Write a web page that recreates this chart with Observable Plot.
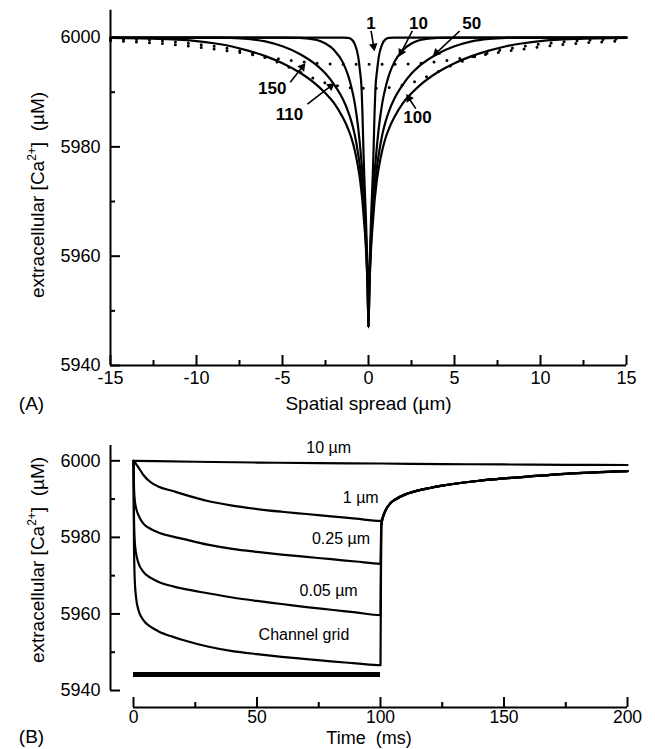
<!DOCTYPE html>
<html><head><meta charset="utf-8">
<script src="https://cdn.jsdelivr.net/npm/d3@7"></script>
<script src="https://cdn.jsdelivr.net/npm/@observablehq/plot@0.6"></script>
<style>
body{margin:0;background:#fff;}
#wrap{position:relative;width:655px;height:749px;background:#fff;}
#a,#b{position:absolute;left:0;}
#a{top:0;} #b{top:415px;}
</style></head><body><div id="wrap"><div id="a"></div><div id="b"></div></div>
<script>
const FONT = "'Liberation Sans', Arial, sans-serif";

// ---------- Panel A: spatial profiles (right half, mirrored about 0) ----------
const rA   = [0, 0.05, 0.1, 0.15, 0.2, 0.25, 0.3, 0.35, 0.4, 0.5, 0.6, 0.8, 1, 1.2, 1.5, 2, 2.5, 3, 4, 5, 6, 7, 8, 9, 10, 12, 15];
const cA1   = [5947, 5956, 5962, 5967, 5971, 5975, 5980, 5986, 5990.5, 5994, 5996.5, 5998.8, 5999.7, 5999.95, 6000, 6000, 6000, 6000, 6000, 6000, 6000, 6000, 6000, 6000, 6000, 6000, 6000];
const cA10  = [5947, 5955, 5960, 5964, 5967.5, 5970.5, 5973, 5975, 5977, 5980.5, 5983.5, 5988, 5991, 5993.2, 5995.5, 5997.7, 5998.9, 5999.55, 5999.95, 6000, 6000, 6000, 6000, 6000, 6000, 6000, 6000];
const cA50  = [5947, 5954.5, 5959, 5962.5, 5965.5, 5968, 5970, 5972, 5973.5, 5976.5, 5978.7, 5982.2, 5984.7, 5986.6, 5988.8, 5991.4, 5993.4, 5994.9, 5997, 5998.4, 5999.3, 5999.75, 5999.95, 6000, 6000, 6000, 6000];
const cA100 = [5947, 5954, 5958, 5961.5, 5964, 5966, 5968, 5970, 5971.5, 5974.2, 5976.2, 5979.4, 5981.7, 5983.4, 5985.4, 5988, 5989.8, 5991.3, 5993.6, 5995.3, 5996.6, 5997.6, 5998.4, 5998.95, 5999.35, 5999.75, 5999.95];
const cA110 = [5990.7, 5990.7, 5990.7, 5990.7, 5990.7, 5990.7, 5990.7, 5990.7, 5990.7, 5990.7, 5990.72, 5990.75, 5990.8, 5990.85, 5991, 5991.3, 5991.7, 5992.3, 5993.7, 5995.1, 5996.3, 5997.2, 5997.9, 5998.4, 5998.8, 5999.4, 5999.75];
const cA150 = [5995.1, 5995.1, 5995.1, 5995.1, 5995.1, 5995.1, 5995.1, 5995.1, 5995.1, 5995.1, 5995.1, 5995.1, 5995.1, 5995.12, 5995.13, 5995.15, 5995.2, 5995.3, 5995.6, 5996, 5996.5, 5997, 5997.5, 5997.9, 5998.3, 5998.9, 5999.4];

const xMajorA = [-15, -10, -5, 0, 5, 10, 15];
const xMinorA = [-12.5, -7.5, -2.5, 2.5, 7.5, 12.5];
const yMajor  = [5940, 5960, 5980, 6000];
const yMinor  = [5950, 5970, 5990];

const labelsA = [
  {t: "1",   x: 0.15, y: 6002.5},
  {t: "10",  x: 2.9,  y: 6002.5},
  {t: "50",  x: 6.0,  y: 6002.5},
  {t: "150", x: -5.6, y: 5990.6},
  {t: "110", x: -4.6, y: 5986.0},
  {t: "100", x: 2.85, y: 5985.4}
];
const arrowsA = [
  {x1: 0.15, y1: 6001.2, x2: 0.3,  y2: 5998.4},
  {x1: 2.55, y1: 6001.2, x2: 1.9,  y2: 5997.3},
  {x1: 5.3,  y1: 6001.2, x2: 3.95, y2: 5997.2},
  {x1: -4.55, y1: 5991.8, x2: -3.85, y2: 5994.6},
  {x1: -3.55, y1: 5987.8, x2: -2.2, y2: 5991.1},
  {x1: 2.75, y1: 5987.0, x2: 2.35, y2: 5988.9}
];

function mirror(r, c) {
  const out = [];
  for (let i = r.length - 1; i > 0; i--) out.push({x: -r[i], y: c[i]});
  for (let i = 0; i < r.length; i++) out.push({x: r[i], y: c[i]});
  return out;
}

const solidA = [cA1, cA10, cA50, cA100].map(c => mirror(rA, c));
const dottedA = [cA110, cA150].map(c => mirror(rA, c));

const frameHA = 365 - 9.7, frameWA = 516;
// pixel-per-unit factors, only used to orient the filled arrowheads
const kxA = frameWA / 30, kyA = frameHA / 65;
const headAngle = d => Math.atan2((d.x2 - d.x1) * kxA, (d.y2 - d.y1) * kyA) * 180 / Math.PI;

const plotA = Plot.plot({
  width: 655, height: 415,
  marginTop: 9.7, marginBottom: 50, marginLeft: 110, marginRight: 29,
  x: {domain: [-15, 15]},
  y: {domain: [5940, 6005]},
  style: {fontFamily: FONT, fontSize: "18px", color: "#000", background: "transparent", overflow: "visible"},
  marks: [
    Plot.ruleX([-15], {strokeWidth: 2}),
    Plot.ruleY([5940], {strokeWidth: 2}),
    Plot.tickX(xMajorA, {x: d => d, insetTop: frameHA - 10, strokeWidth: 2}),
    Plot.tickX(xMinorA, {x: d => d, insetTop: frameHA - 5, strokeWidth: 2}),
    Plot.tickY(yMajor, {y: d => d, insetRight: frameWA - 10, strokeWidth: 2}),
    Plot.tickY(yMinor, {y: d => d, insetRight: frameWA - 5, strokeWidth: 2}),
    Plot.axisX(xMajorA, {tickSize: 0, tickPadding: 6, label: null, fontSize: 18, tickFormat: d => String(d)}),
    Plot.axisY(yMajor, {tickSize: 0, tickPadding: 10, label: null, fontSize: 18, tickFormat: d => String(d)}),
    ...solidA.map(d => Plot.line(d, {x: "x", y: "y", curve: "monotone-x", strokeWidth: 2.2})),
    ...dottedA.map(d => Plot.line(d, {x: "x", y: "y", curve: "monotone-x", strokeWidth: 3, strokeDasharray: "0,13", strokeLinecap: "round"})),
    Plot.link(arrowsA, {x1: "x1", y1: "y1", x2: "x2", y2: "y2", strokeWidth: 1.6}),
    Plot.dot(arrowsA, {x: "x2", y: "y2", symbol: "triangle", r: 3.2, fill: "#000", stroke: null, rotate: headAngle}),
    Plot.text(labelsA, {x: "x", y: "y", text: "t", fontWeight: "bold", fontSize: 17}),
    Plot.text(["Spatial spread (\u00b5m)"], {frameAnchor: "bottom", dy: 38, lineAnchor: "middle", fontSize: 19, text: d => d}),
    Plot.text(["(A)"], {frameAnchor: "bottom-left", dx: -79, dy: 38, lineAnchor: "middle", fontSize: 19, textAnchor: "middle", text: d => d})
  ]
});

// ---------- Panel B: time courses ----------
const tPulse = [0, 0.2, 0.5, 1, 2, 4, 7, 10, 16, 20, 30, 40, 50, 60, 70, 80, 90, 100];
const cB1um  = [6000, 5999.85, 5999.6, 5999.2, 5998.3, 5996.3, 5994.4, 5993.3, 5992.1, 5991.3, 5989.5, 5988.3, 5987.4, 5986.7, 5986.1, 5985.5, 5984.9, 5984.3];
const cB025  = [6000, 5993, 5989.8, 5987.8, 5985.8, 5983.6, 5982.2, 5981.3, 5980.2, 5979.6, 5978.1, 5977, 5976.2, 5975.5, 5974.9, 5974.3, 5973.7, 5973.1];
const cB005  = [6000, 5985, 5979, 5976, 5973.3, 5971, 5969.4, 5968.4, 5967.2, 5966.6, 5965.4, 5964.3, 5963.4, 5962.6, 5961.8, 5961.1, 5960.4, 5959.7];
const cBgrid = [6000, 5978, 5969, 5964.5, 5961, 5958.4, 5956.6, 5955.5, 5954, 5953.2, 5951.5, 5950.3, 5949.5, 5948.8, 5948.2, 5947.6, 5947.1, 5946.6];
const tRec   = [100.3, 101, 102, 104, 106, 110, 115, 120, 125, 130, 140, 150, 160, 175, 200];
const cRec   = [5983, 5985.3, 5987, 5988.9, 5989.9, 5991.2, 5992.2, 5992.9, 5993.5, 5994, 5994.8, 5995.4, 5995.9, 5996.6, 5997.3];
const t10um  = [0, 25, 50, 75, 100, 125, 150, 175, 200];
const c10um  = [6000, 5999.75, 5999.55, 5999.4, 5999.3, 5999.15, 5999.05, 5998.95, 5998.9];
const pulseBar = [{x1: 0, x2: 100, y: 5944.2}];

const xMajorB = [0, 50, 100, 150, 200];
const xMinorB = [25, 75, 125, 175];

const labelsB = [
  {t: "10 \u00b5m", x: 79, y: 6003.4},
  {t: "1 \u00b5m", x: 92, y: 5990.4},
  {t: "0.25 \u00b5m", x: 84, y: 5979.5},
  {t: "0.05 \u00b5m", x: 79, y: 5966},
  {t: "Channel grid", x: 69, y: 5954.6}
];

function series(t, c, withRec, skipFirstRec) {
  const out = t.map((v, i) => ({x: v, y: c[i]}));
  if (withRec) tRec.forEach((v, i) => { if (!(skipFirstRec && i === 0)) out.push({x: v, y: cRec[i]}); });
  return out;
}
const seriesB = [
  series(tPulse, cB1um, true, true),
  series(tPulse, cB025, true, false),
  series(tPulse, cB005, true, false),
  series(tPulse, cBgrid, true, false),
  series(t10um, c10um, false, false)
];

const x0B = -23 / 2.47;
const frameHB = 245, frameWB = 517;

const plotB = Plot.plot({
  width: 655, height: 334,
  marginTop: 30, marginBottom: 59, marginLeft: 110, marginRight: 28,
  x: {domain: [x0B, 200]},
  y: {domain: [5940, 6004]},
  style: {fontFamily: FONT, fontSize: "18px", color: "#000", background: "transparent", overflow: "visible"},
  marks: [
    Plot.ruleX([x0B], {strokeWidth: 2}),
    Plot.ruleY([5940], {x1: 0, x2: 200, dy: 17, strokeWidth: 2}),
    Plot.tickX(xMajorB, {x: d => d, insetTop: frameHB - 10, dy: 17, strokeWidth: 2}),
    Plot.tickX(xMinorB, {x: d => d, insetTop: frameHB - 5, dy: 17, strokeWidth: 2}),
    Plot.tickY(yMajor, {y: d => d, insetRight: frameWB - 10, strokeWidth: 2}),
    Plot.tickY(yMinor, {y: d => d, insetRight: frameWB - 5, strokeWidth: 2}),
    Plot.axisX(xMajorB, {tickSize: 0, tickPadding: 20, label: null, fontSize: 17.5, tickFormat: d => String(d)}),
    Plot.axisY(yMajor, {tickSize: 0, tickPadding: 10, label: null, fontSize: 18, tickFormat: d => String(d)}),
    Plot.ruleY(pulseBar, {x1: "x1", x2: "x2", y: "y", strokeWidth: 5}),
    ...seriesB.map(d => Plot.line(d, {x: "x", y: "y", curve: "monotone-x", strokeWidth: 2.2})),
    Plot.text(labelsB, {x: "x", y: "y", text: "t", fontSize: 16}),
    Plot.text(["Time  (ms)"], {frameAnchor: "bottom", dy: 48, lineAnchor: "middle", fontSize: 18, text: d => d}),
    Plot.text(["(B)"], {frameAnchor: "bottom-left", dx: -79, dy: 46, lineAnchor: "middle", fontSize: 19, textAnchor: "middle", text: d => d})
  ]
});

function yTitle(svg, cx, cy) {
  const t = d3.select(svg).append("text")
    .attr("transform", `translate(${cx},${cy}) rotate(-90)`)
    .attr("text-anchor", "middle")
    .attr("font-family", FONT)
    .attr("font-size", 19)
    .attr("fill", "#000");
  t.append("tspan").attr("dy", "0.35em").text("extracellular [Ca");
  t.append("tspan").attr("font-size", 12).attr("dy", -8).text("2+");
  t.append("tspan").attr("dy", 8).text("]  (\u00b5M)");
}
yTitle(plotA, 37, 195);
yTitle(plotB, 37, 560 - 415);

document.getElementById("a").appendChild(plotA);
document.getElementById("b").appendChild(plotB);
</script>
</body></html>
